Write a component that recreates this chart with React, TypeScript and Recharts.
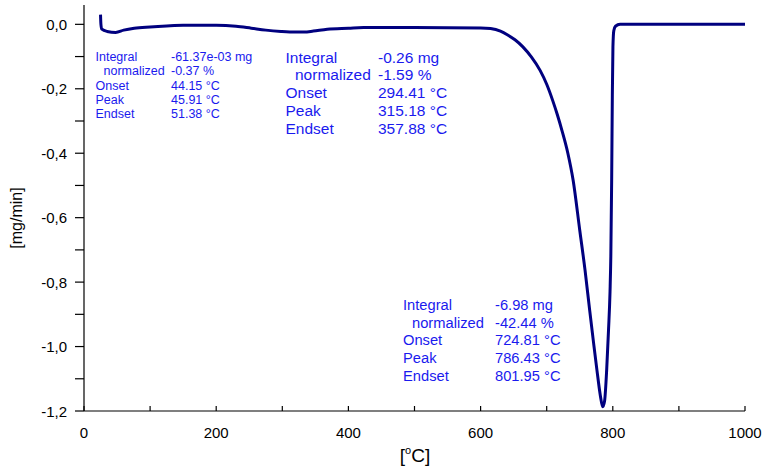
import React from "react";
import { LineChart, Line, XAxis, YAxis } from "recharts";

// thermogravimetric derivative curve (DTG), temperature in °C, rate in mg/min
const temps = [
  25, 25.6, 27, 35, 48, 60, 76, 100, 125, 150, 200, 230, 253, 275, 298, 320, 333, 347, 368, 400,
  423, 500, 600, 615, 630, 641, 652, 664, 677, 690, 700, 709, 716, 723, 732, 740, 750, 758, 765,
  771, 776, 781, 784.7, 787.5, 790.8, 793.5, 795.8, 797, 798.3, 799.3, 800.2, 801.5, 804, 811, 850,
  900, 1000,
];
const rates = [
  0.03, 0.0, -0.015, -0.022, -0.025, -0.018, -0.012, -0.008, -0.005, -0.003, -0.003, -0.006,
  -0.012, -0.018, -0.022, -0.024, -0.024, -0.021, -0.015, -0.012, -0.01, -0.01, -0.011, -0.013,
  -0.021, -0.033, -0.048, -0.07, -0.102, -0.143, -0.186, -0.236, -0.28, -0.329, -0.4, -0.484,
  -0.639, -0.763, -0.887, -0.99, -1.073, -1.15, -1.187, -1.17, -1.07, -0.95, -0.83, -0.72, -0.48,
  -0.22, -0.07, -0.02, -0.006, 0, 0, 0, 0,
];

const xTicks = [0, 100, 200, 300, 400, 500, 600, 700, 800, 900, 1000];
const xLabelTicks = [0, 200, 400, 600, 800, 1000];
const yTicks = [-1.2, -1.1, -1.0, -0.9, -0.8, -0.7, -0.6, -0.5, -0.4, -0.3, -0.2, -0.1, 0];
const yLabelTicks = [-1.2, -1.0, -0.8, -0.6, -0.4, -0.2, 0];

const annoNames = ["Integral", "normalized", "Onset", "Peak", "Endset"];
const step1Values = ["-61.37e-03 mg", "-0.37 %", "44.15 °C", "45.91 °C", "51.38 °C"];
const step2Values = ["-0.26 mg", "-1.59 %", "294.41 °C", "315.18 °C", "357.88 °C"];
const step3Values = ["-6.98 mg", "-42.44 %", "724.81 °C", "786.43 °C", "801.95 °C"];

const data = temps.map((t, i) => ({ t, v: rates[i] }));

const FONT = "'Liberation Sans', Arial, sans-serif";

function XTick(props: any) {
  const { x, y, payload } = props;
  const show = xLabelTicks.includes(payload.value);
  return (
    <g>
      <line x1={x} x2={x} y1={y} y2={y - 5} stroke="#000" strokeWidth={1.2} />
      {show && (
        <text x={x} y={y + 27} textAnchor="middle" fontSize={15} fontFamily={FONT} fill="#000">
          {payload.value}
        </text>
      )}
    </g>
  );
}

function YTick(props: any) {
  const { x, y, payload } = props;
  const v = payload.value;
  const show = yLabelTicks.some((t) => Math.abs(t - v) < 1e-6);
  const label = (Math.abs(v) < 1e-9 ? 0 : v).toFixed(1).replace(".", ",");
  return (
    <g>
      <line x1={x - 9} x2={x} y1={y} y2={y} stroke="#000" strokeWidth={1.2} />
      {show && (
        <text x={x - 17} y={y + 5.5} textAnchor="end" fontSize={15} fontFamily={FONT} fill="#000">
          {label}
        </text>
      )}
    </g>
  );
}

function Block({ x, y, valueX, indent, size, gap, values }: any) {
  return (
    <g fontFamily={FONT} fontSize={size} fill="#1a1aee">
      {annoNames.map((n, i) => (
        <g key={n}>
          <text x={i === 1 ? x + indent : x} y={y + i * gap} dominantBaseline="central">
            {n}
          </text>
          <text x={valueX} y={y + i * gap} dominantBaseline="central">
            {values[i]}
          </text>
        </g>
      ))}
    </g>
  );
}

export default function App() {
  return (
    <div style={{ position: "absolute", left: 0, top: 0, width: 769, height: 467, background: "#fff" }}>
      <LineChart width={769} height={467} data={data} margin={{ top: 5, right: 24, bottom: 0, left: 0 }}>
        <XAxis
          dataKey="t"
          type="number"
          domain={[0, 1000]}
          ticks={xTicks}
          interval={0}
          tickSize={0}
          tickMargin={0}
          tickLine={false}
          tick={<XTick />}
          height={56}
          axisLine={{ stroke: "#000", strokeWidth: 1.2 }}
        />
        <YAxis
          type="number"
          domain={[-1.2, 0.06]}
          ticks={yTicks}
          interval={0}
          tickSize={0}
          tickMargin={0}
          tickLine={false}
          tick={<YTick />}
          width={84}
          allowDataOverflow
          axisLine={{ stroke: "#000", strokeWidth: 1.2 }}
        />
        <Line
          type="monotone"
          dataKey="v"
          stroke="#00007f"
          strokeWidth={3}
          dot={false}
          isAnimationActive={false}
        />
      </LineChart>
      <svg
        width={769}
        height={467}
        style={{ position: "absolute", left: 0, top: 0, pointerEvents: "none" }}
      >
        <text
          transform="translate(22,218) rotate(-90)"
          textAnchor="middle"
          fontSize={16}
          fontFamily={FONT}
          fill="#000"
        >
          [mg/min]
        </text>
        <text x={415} y={462} textAnchor="middle" fontSize={19} fontFamily={FONT} fill="#000">
          [<tspan fontSize={11} dy={-8}>o</tspan>
          <tspan dy={8}>C]</tspan>
        </text>
        <Block x={95.5} y={57} valueX={171} indent={8} size={12.5} gap={14.3} values={step1Values} />
        <Block x={285.5} y={57} valueX={378} indent={9.5} size={15.5} gap={17.9} values={step2Values} />
        <Block x={403} y={305} valueX={495} indent={9} size={14.7} gap={17.7} values={step3Values} />
      </svg>
    </div>
  );
}
